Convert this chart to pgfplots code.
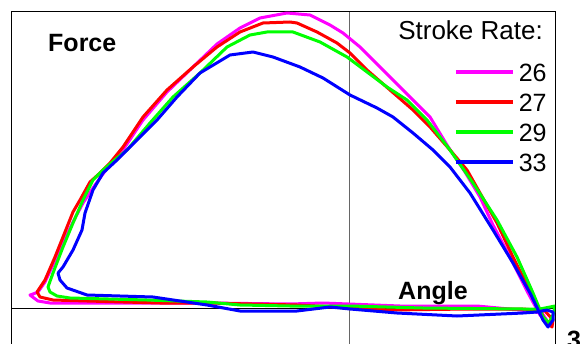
\documentclass[border=0pt]{standalone}
\usepackage{fontspec}
\setmainfont{Liberation Sans}
\usepackage{pgfplots}
\pgfplotsset{compat=1.18}
\definecolor{cMag}{RGB}{255,0,255}
\definecolor{cRed}{RGB}{255,0,0}
\definecolor{cGrn}{RGB}{0,255,0}
\definecolor{cBlu}{RGB}{0,0,255}
\begin{document}
\begin{tikzpicture}
\clip (0,0) rectangle (588pt,343pt);
\useasboundingbox (0,0) rectangle (588pt,343pt);
\begin{axis}[
  at={(11pt,-25pt)}, anchor=south west,
  scale only axis, width=544pt, height=356pt,
  xmin=-338, xmax=206, ymin=-60, ymax=296,
  xtick=\empty, ytick=\empty,
  axis line style={black, line width=1pt},
  extra x ticks={0}, extra x tick labels={},
  extra x tick style={grid=major, major grid style={draw=black!60, line width=1pt}, major tick length=0pt},
  extra y ticks={0}, extra y tick labels={},
  extra y tick style={grid=major, major grid style={draw=black, line width=1pt}, major tick length=0pt},
  every axis plot/.append style={line width=3pt, line join=round, line cap=round, mark=none},
  legend style={draw=none, fill=none, font=\fontsize{25}{30}\selectfont,
    at={(rel axis cs:0.985,0.8736)}, anchor=north east,
    inner sep=0pt, row sep=0pt, column sep=4pt,
    nodes={inner sep=0pt, text height=24pt, text depth=6pt}},
  legend cell align=left,
  legend image code/.code={\draw[#1, line width=4pt, line cap=butt] (0pt,0pt) -- (57pt,0pt);},
]
\addplot[cMag] coordinates {
(-311,16) (-304,26) (-297,41) (-287,63) (-276,86) (-266,105) (-254,123) (-241,141)
(-226,158) (-206,188) (-182,216) (-156,241) (-132,264) (-109,280) (-89,290) (-62,295)
(-39,293) (-19,283) (-6,275) (11,261) (24,248) (44,228) (64,208) (81,191) (98,163)
(116,136) (131,111) (144,83) (161,51) (179,15) (191,-7) (199,-14) (193,-5) (171,-2)
(128,2) (51,2) (-26,5) (-59,4) (-142,5) (-199,5) (-249,5) (-299,5) (-311,7) (-319,13)
(-316,14) (-311,16)
};
\addlegendentry{26}
\addplot[cRed] coordinates {
(-312,16) (-304,28) (-294,51) (-286,71) (-276,96) (-269,108) (-259,126) (-249,135)
(-239,145) (-226,161) (-206,191) (-182,218) (-156,241) (-132,261) (-109,276) (-86,285)
(-59,286) (-52,285) (-32,276) (-12,265) (1,255) (18,238) (41,218) (64,198) (81,181)
(101,158) (118,138) (131,115) (148,85) (164,51) (184,11) (196,-12) (203,-19) (204,-12)
(196,-3) (174,-1) (121,-1) (41,-2) (1,0) (-52,3) (-142,5) (-189,5) (-262,7) (-296,8)
(-309,11) (-312,16)
};
\addlegendentry{27}
\addplot[cGrn] coordinates {
(-301,21) (-296,35) (-286,61) (-276,85) (-266,108) (-256,128) (-246,138) (-232,150)
(-222,158) (-199,185) (-176,211) (-149,235) (-122,261) (-99,273) (-82,276) (-56,276)
(-29,266) (-2,251) (18,236) (38,221) (58,208) (78,188) (101,158) (124,125) (148,88)
(168,51) (184,15) (194,-9) (200,-15) (204,-7) (206,2) (191,-1) (174,-1) (74,0) (1,2)
(-59,2) (-109,3) (-142,6) (-202,8) (-279,10) (-292,12) (-299,16) (-301,21)
};
\addlegendentry{29}
\addplot[cBlu] coordinates {
(-291,35) (-286,41) (-276,58) (-267,78) (-264,95) (-256,118) (-246,135) (-232,148)
(-209,171) (-192,188) (-172,211) (-149,235) (-119,253) (-96,256) (-76,251) (-49,241)
(-26,230) (1,213) (28,200) (44,191) (64,175) (84,158) (101,141) (121,115) (144,78)
(164,45) (181,15) (194,-12) (199,-19) (204,-12) (204,-4) (198,-2) (188,-4) (174,-5)
(108,-8) (48,-5) (1,-1) (-19,1) (-52,-3) (-109,-3) (-142,3) (-196,11) (-262,13)
(-282,20) (-289,28) (-291,35)
};
\addlegendentry{33}
\end{axis}
\node[anchor=base west, inner sep=0pt, font=\fontsize{25}{30}\selectfont\bfseries] at (48pt,291pt) {Force};
\node[anchor=base east, inner sep=0pt, font=\fontsize{26}{30}\selectfont] at (543pt,303pt) {Stroke Rate:};
\node[anchor=base west, inner sep=0pt, font=\fontsize{25}{30}\selectfont\bfseries] at (398pt,44pt) {Angle};
\node[anchor=base west, inner sep=0pt, font=\fontsize{25}{30}\selectfont\bfseries] at (567pt,-5pt) {3};
\end{tikzpicture}
\end{document}
